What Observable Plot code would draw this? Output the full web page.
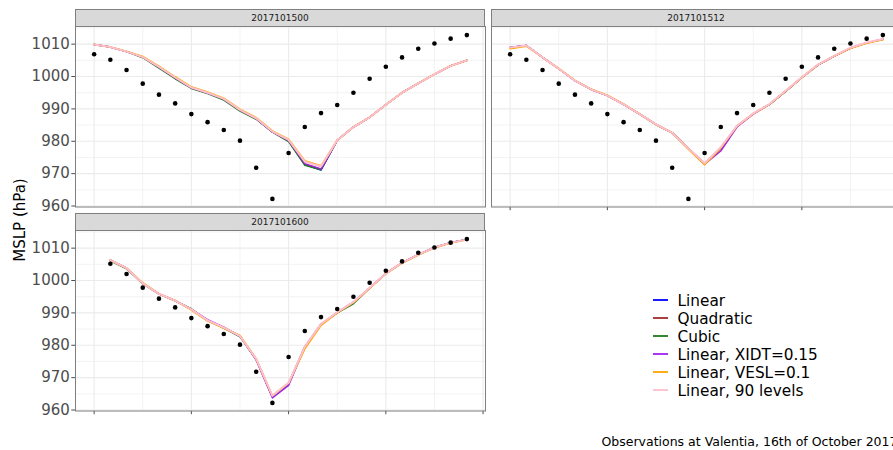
<!DOCTYPE html>
<html><head><meta charset="utf-8">
<script src="https://cdn.jsdelivr.net/npm/d3@7"></script>
<script src="https://cdn.jsdelivr.net/npm/@observablehq/plot@0.6"></script>
<style>
body{margin:0;background:#fff;}
#fig{position:relative;width:893px;height:450px;overflow:hidden;background:#fff;font-family:"DejaVu Sans",sans-serif;}
.strip{position:absolute;box-sizing:border-box;background:#d9d9d9;border:1px solid #7f7f7f;font-size:9px;color:#1a1a1a;text-align:center;line-height:16px;}
.pl{position:absolute;}
</style></head><body><div id="fig"></div>
<script>
// ---- data ----
const seriesNames = ["Linear", "Quadratic", "Cubic", "Linear, XIDT=0.15", "Linear, VESL=0.1", "Linear, 90 levels"];
const seriesColors = ["#0000ff", "#a52a2a", "#1e7b1e", "#a020f0", "#ffa500", "#ffc0cb"];
const panelNames = ["2017101500", "2017101512", "2017101600"];
const hours = [0,1,2,3,4,5,6,7,8,9,10,11,12,13,14,15,16,17,18,19,20,21,22,23];
const hoursFrom1 = [1,2,3,4,5,6,7,8,9,10,11,12,13,14,15,16,17,18,19,20,21,22,23];
const obsMSLP = [1006.9,1005.2,1002.0,997.8,994.4,991.7,988.4,985.9,983.5,980.2,971.8,962.2,976.4,984.4,988.7,991.2,995.0,999.3,1003.0,1005.9,1008.6,1010.2,1011.7,1012.8];
const obsMSLPFrom1 = [1005.2,1002.0,997.8,994.4,991.7,988.4,985.9,983.5,980.2,971.8,962.2,976.4,984.4,988.7,991.2,995.0,999.3,1003.0,1005.9,1008.6,1010.2,1011.7,1012.8];

const p1_linear = [1009.9,1009.1,1007.7,1006.0,1002.9,999.6,996.5,994.9,993.0,989.6,987.0,982.9,980.2,972.8,971.1,980.3,984.4,987.4,991.3,995.0,997.9,1000.7,1003.3,1005.0];
const p1_quad   = [1009.9,1009.1,1007.7,1006.0,1002.9,999.6,996.5,994.9,993.0,989.6,987.0,982.9,980.2,972.9,971.3,980.3,984.4,987.4,991.3,995.0,997.9,1000.7,1003.3,1005.0];
const p1_cubic  = [1009.9,1009.1,1007.7,1005.8,1002.6,999.3,996.3,994.7,992.7,989.3,986.8,982.8,979.9,972.6,971.2,980.3,984.4,987.4,991.3,995.0,997.9,1000.7,1003.3,1005.0];
const p1_xidt   = [1009.9,1009.1,1007.7,1006.0,1002.9,999.6,996.5,994.9,993.0,989.6,987.0,982.9,980.2,973.1,971.5,980.3,984.4,987.4,991.3,995.0,997.9,1000.7,1003.3,1005.0];
const p1_vesl   = [1009.9,1009.1,1007.8,1006.2,1003.2,999.9,996.8,995.2,993.3,989.9,987.3,983.2,980.6,974.0,972.4,980.3,984.4,987.4,991.3,995.0,997.9,1000.7,1003.3,1005.0];
const p1_l90    = [1009.9,1009.1,1007.7,1006.0,1003.0,999.7,996.6,995.0,993.1,989.7,987.1,983.0,980.4,973.7,972.2,980.3,984.4,987.4,991.3,995.0,997.9,1000.7,1003.3,1005.0];

const p2_linear = [1009.0,1009.6,1005.9,1002.4,998.7,996.0,994.1,991.4,988.4,985.2,982.6,977.8,973.1,977.7,984.7,988.5,991.4,995.5,999.7,1003.6,1006.3,1008.8,1010.4,1011.5];
const p2_quad   = [1009.0,1009.6,1005.9,1002.4,998.7,996.0,994.1,991.4,988.4,985.2,982.6,977.8,973.1,977.8,984.7,988.5,991.4,995.5,999.7,1003.6,1006.3,1008.8,1010.4,1011.5];
const p2_cubic  = [1009.0,1009.6,1005.9,1002.4,998.7,996.0,994.1,991.4,988.3,985.1,982.6,977.8,973.1,977.8,984.7,988.5,991.4,995.4,999.7,1003.6,1006.3,1008.8,1010.4,1011.5];
const p2_xidt   = [1009.0,1009.6,1005.9,1002.4,998.7,996.0,994.1,991.4,988.4,985.2,982.6,977.7,972.9,977.0,984.4,988.4,991.4,995.5,999.7,1003.6,1006.3,1008.8,1010.4,1011.5];
const p2_vesl   = [1008.6,1009.4,1005.9,1002.5,998.8,996.1,994.2,991.5,988.4,985.2,982.6,977.6,972.8,977.9,984.7,988.5,991.4,995.5,999.7,1003.6,1006.3,1008.7,1010.3,1011.4];
const p2_l90    = [1009.0,1009.6,1005.9,1002.4,998.7,996.0,994.1,991.4,988.4,985.2,982.6,977.8,973.2,978.2,984.8,988.6,991.5,995.6,999.8,1003.7,1006.4,1008.9,1010.5,1011.6];

const p3_linear = [1006.3,1003.8,999.1,995.9,993.8,991.1,987.7,985.5,982.8,975.7,964.2,968.1,979.5,986.5,990.1,993.3,997.7,1002.2,1005.5,1008.0,1010.2,1011.7,1012.7];
const p3_quad   = [1006.3,1003.8,999.1,995.9,993.8,991.1,987.7,985.5,982.8,975.7,964.2,968.1,979.5,986.5,990.1,993.2,997.7,1002.2,1005.5,1008.0,1010.2,1011.7,1012.7];
const p3_cubic  = [1006.1,1003.6,999.0,995.8,993.7,991.3,987.6,985.3,982.6,975.6,964.1,968.2,979.5,986.4,990.0,992.8,997.6,1002.1,1005.4,1007.9,1010.2,1011.7,1012.7];
const p3_xidt   = [1006.3,1003.8,999.1,995.9,993.8,991.1,987.9,985.6,982.8,975.4,963.7,967.6,979.4,986.5,990.1,993.3,997.7,1002.2,1005.5,1008.0,1010.2,1011.7,1012.7];
const p3_vesl   = [1006.3,1003.8,999.3,995.9,993.8,990.9,987.5,985.3,983.0,975.8,964.4,968.4,978.9,986.2,990.0,993.2,997.6,1002.1,1005.4,1007.9,1010.1,1011.6,1012.6];
const p3_l90    = [1006.3,1003.8,999.1,995.9,993.8,991.1,987.7,985.5,982.8,975.8,964.4,968.4,979.6,986.6,990.2,993.4,997.8,1002.2,1005.5,1008.0,1010.2,1011.7,1012.7];

const yMajor = [960, 970, 980, 990, 1000, 1010];
const yMinor = [965, 975, 985, 995, 1005, 1015];
const xMajor = [0, 6, 12, 18, 24];
const xMinor = [3, 9, 15, 21];
const yLabel = "MSLP (hPa)";
const caption = "Observations at Valentia, 16th of October 2017";

// ---- layout ----
const yDomain = [959.7, 1015.45];
const xDomain = [-1.15, 24.15];
const PW = 410, PH = 180.5;
const lineWidths = [1.4, 1.4, 1.4, 1.4, 1.7, 2.0];
const panels = [
  {name: panelNames[0], left: 75, top: 26, hours, obsHours: hours, obs: obsMSLP,
   series: [p1_linear, p1_quad, p1_cubic, p1_xidt, p1_vesl, p1_l90], xAxis: false, yAxis: true},
  {name: panelNames[1], left: 491, top: 26, hours, obsHours: hours, obs: obsMSLP,
   series: [p2_linear, p2_quad, p2_cubic, p2_xidt, p2_vesl, p2_l90], xAxis: true, yAxis: false},
  {name: panelNames[2], left: 75, top: 230, hours: hoursFrom1, obsHours: hoursFrom1, obs: obsMSLPFrom1,
   series: [p3_linear, p3_quad, p3_cubic, p3_xidt, p3_vesl, p3_l90], xAxis: true, yAxis: true}
];

const fig = document.getElementById("fig");

panels.forEach(P => {
  const lineMarks = seriesNames.map((s, k) =>
    Plot.line(P.series[k].map((v, j) => ({t: P.hours[j], v, s})),
      {x: "t", y: "v", stroke: "s", strokeWidth: lineWidths[k]}));
  const obsRows = P.obsHours.map((t, j) => ({t, v: P.obs[j]}));
  const plot = Plot.plot({
    width: PW + 75, height: PH + 20,
    marginLeft: 75, marginRight: 0, marginTop: 0, marginBottom: 20,
    style: {overflow: "visible", background: "transparent", fontFamily: "DejaVu Sans", fontSize: "15px", color: "#4d4d4d"},
    x: {domain: xDomain, ticks: xMajor, tickFormat: () => "", tickSize: 3.7, label: null, axis: P.xAxis ? "bottom" : null},
    y: {domain: yDomain, ticks: yMajor, tickFormat: d => String(d), tickSize: 3.7, tickPadding: 2, label: null, axis: P.yAxis ? "left" : null},
    color: {domain: seriesNames, range: seriesColors},
    marks: [
      Plot.ruleY(yMinor, {stroke: "#ebebeb", strokeWidth: 0.6}),
      Plot.ruleX(xMinor, {stroke: "#ebebeb", strokeWidth: 0.6}),
      Plot.ruleY(yMajor, {stroke: "#ebebeb", strokeWidth: 1.1}),
      Plot.ruleX(xMajor, {stroke: "#ebebeb", strokeWidth: 1.1}),
      ...lineMarks,
      Plot.dot(obsRows, {x: "t", y: "v", r: 2.3, fill: "black"}),
      Plot.frame({stroke: "#7f7f7f", strokeWidth: 1})
    ]
  });
  plot.classList.add("pl");
  plot.style.left = (P.left - 75) + "px";
  plot.style.top = P.top + "px";
  plot.style.maxWidth = "none";
  fig.appendChild(plot);

  const strip = document.createElement("div");
  strip.className = "strip";
  strip.style.left = P.left + "px";
  strip.style.top = (P.top - 17.5) + "px";
  strip.style.width = PW + "px";
  strip.style.height = "18px";
  strip.textContent = P.name;
  fig.appendChild(strip);
});

// ---- y title, legend, caption ----
const over = d3.select(fig).append("svg")
  .attr("width", 893).attr("height", 450)
  .style("position", "absolute").style("left", 0).style("top", 0)
  .style("font-family", "DejaVu Sans");

over.append("text")
  .attr("transform", "translate(25,220) rotate(-90)")
  .attr("text-anchor", "middle")
  .attr("font-size", 15)
  .attr("fill", "#000")
  .text(yLabel);

const leg = over.append("g");
seriesNames.forEach((s, i) => {
  const y = 300 + i * 18;
  leg.append("line").attr("x1", 653).attr("x2", 668).attr("y1", y).attr("y2", y)
    .attr("stroke", seriesColors[i]).attr("stroke-width", 1.8);
  leg.append("text").attr("x", 677.5).attr("y", y).attr("dy", "0.36em")
    .attr("font-size", 15.3).attr("fill", "#000").text(s);
});

over.append("text")
  .attr("x", 601.5).attr("y", 445.5)
  .attr("font-size", 12.5).attr("fill", "#000")
  .text(caption);
</script></body></html>
